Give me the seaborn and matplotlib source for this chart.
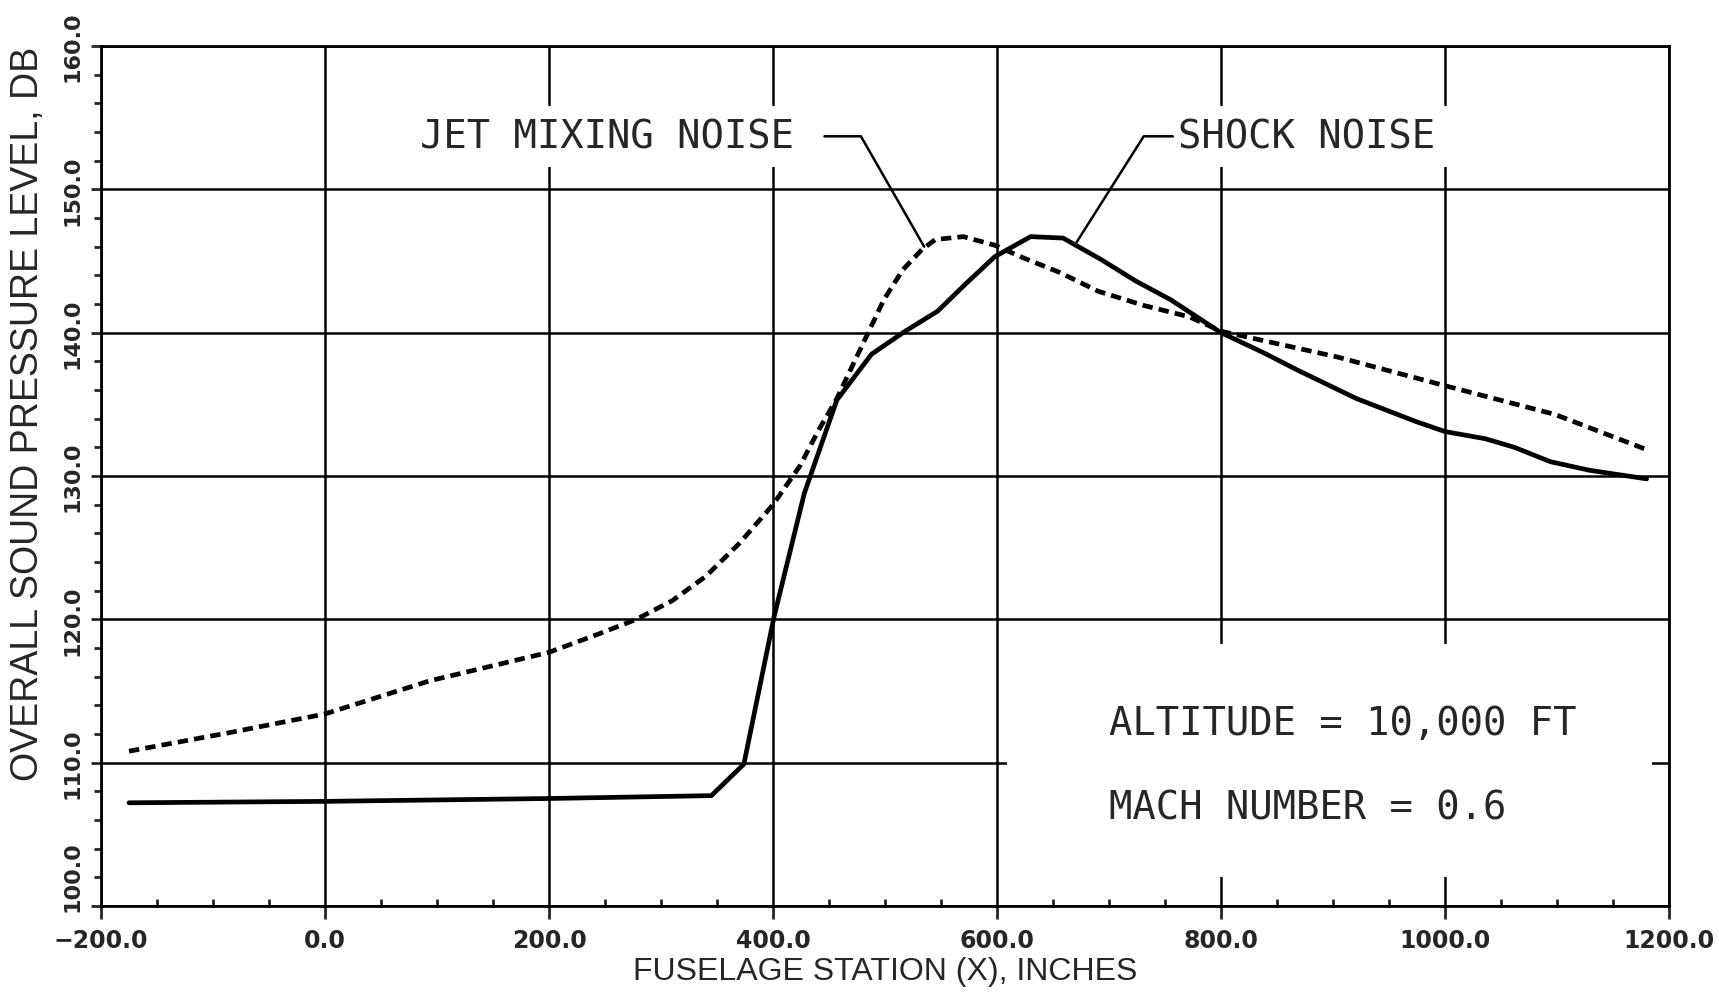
import numpy as np
import pandas as pd
import matplotlib
matplotlib.use('Agg')
import matplotlib.pyplot as plt
import matplotlib.transforms as mtrans
import seaborn as sns
from matplotlib.patches import Rectangle
from matplotlib.ticker import MultipleLocator, FuncFormatter

sns.set_style('white')
plt.rcParams['font.family'] = ['DejaVu Sans']

# shock noise (solid)
shock_x = [-175, 0, 200, 345, 374, 401, 428, 457, 488, 518, 547, 572, 598, 630,
           659, 693, 724, 755, 800, 838, 868, 921, 974, 1000, 1036, 1062, 1094, 1129, 1180]
shock_y = [107.2, 107.3, 107.5, 107.7, 109.9, 120.2, 128.8, 135.3, 138.5, 140.1, 141.5,
           143.4, 145.3, 146.7, 146.6, 145.1, 143.6, 142.3, 140.0, 138.6, 137.4, 135.4,
           133.8, 133.1, 132.6, 132.0, 131.0, 130.4, 129.8]

# jet mixing noise (dashed)
jet_x = [-175, -85, 0, 93, 200, 245, 278, 310, 340, 370, 400, 424, 440, 457, 471, 485,
         499, 516, 533, 545, 570, 598, 621, 656, 690, 731, 772, 800, 904, 1000, 1098, 1178]
jet_y = [110.8, 112.1, 113.4, 115.7, 117.7, 119.0, 120.0, 121.3, 123.0, 125.3, 128.0,
         130.7, 133.1, 135.4, 137.7, 140.0, 142.3, 144.4, 145.8, 146.5, 146.7, 146.1,
         145.3, 144.2, 142.9, 141.9, 141.1, 140.1, 138.3, 136.3, 134.3, 131.9]

x_ticks = [-200, 0, 200, 400, 600, 800, 1000, 1200]
y_ticks = [100, 110, 120, 130, 140, 150, 160]

df = pd.concat([
    pd.DataFrame({'x': shock_x, 'y': shock_y, 'curve': 'SHOCK NOISE'}),
    pd.DataFrame({'x': jet_x, 'y': jet_y, 'curve': 'JET MIXING NOISE'}),
])

fig = plt.figure(figsize=(17.19, 9.95), dpi=100)
ax = fig.add_axes([101 / 1719, 88 / 995, 1568 / 1719, 860 / 995])

sns.lineplot(data=df, x='x', y='y', hue='curve', style='curve',
             palette={'SHOCK NOISE': 'black', 'JET MIXING NOISE': 'black'},
             dashes={'SHOCK NOISE': '', 'JET MIXING NOISE': (2.2, 1.3)},
             sort=False, estimator=None, lw=3.4, legend=False, ax=ax, zorder=3)

ax.set_xlim(-200, 1200)
ax.set_ylim(100, 160)
ax.set_xticks(x_ticks)
ax.set_yticks(y_ticks)
ax.xaxis.set_minor_locator(MultipleLocator(50))
ax.yaxis.set_minor_locator(MultipleLocator(2))
fmt = FuncFormatter(lambda v, p: f'{v:.1f}'.replace('-', '\u2212'))
ax.xaxis.set_major_formatter(fmt)
ax.yaxis.set_major_formatter(fmt)

ax.set_axisbelow(True)
ax.grid(True, which='major', color='black', lw=1.8)
for s in ax.spines.values():
    s.set_color('black')
    s.set_linewidth(2.0)

ax.tick_params(axis='x', which='major', direction='out', length=9, width=2,
               pad=7, labelsize=17, bottom=True)
ax.tick_params(axis='x', which='minor', direction='in', length=5, width=2, bottom=True)
ax.tick_params(axis='y', which='major', direction='out', length=7, width=2,
               pad=6, labelsize=16, left=True, labelrotation=90)
ax.tick_params(axis='y', which='minor', direction='out', length=5, width=2, left=True)
for lab in ax.get_xticklabels() + ax.get_yticklabels():
    lab.set_fontweight('bold')
for lab in ax.get_yticklabels():
    lab.set_verticalalignment('center')

# lowest y label sits above the corner, as in the original
low = ax.yaxis.get_major_ticks()[0].label1
low.set_transform(low.get_transform() + mtrans.ScaledTranslation(0, 0.30, fig.dpi_scale_trans))

ax.set_xlabel('FUSELAGE STATION (X), INCHES',
              family=['Liberation Sans', 'DejaVu Sans'], fontsize=23)
ax.set_ylabel('OVERALL SOUND PRESSURE LEVEL, DB',
              family=['Liberation Sans', 'DejaVu Sans'], fontsize=27)
ax.xaxis.set_label_coords(0.5, -0.058)
ax.yaxis.set_label_coords(-0.035, 0.573)

# blank area behind the flight-condition note
ax.add_patch(Rectangle((609, 102), 576, 16.3, facecolor='white', edgecolor='none', zorder=1))

mono = ['DejaVu Sans Mono']
box = dict(facecolor='white', edgecolor='none', pad=8)
ax.text(85, 153.7, 'JET MIXING NOISE', family=mono, fontsize=28, ha='left', va='center',
        bbox=box, zorder=2)
ax.text(762, 153.7, 'SHOCK NOISE', family=mono, fontsize=28, ha='left', va='center',
        bbox=box, zorder=2)
ax.plot([446, 478.5, 535], [153.7, 153.7, 146.0], color='black', lw=1.8, zorder=4)
ax.plot([757, 731, 671], [153.7, 153.7, 146.3], color='black', lw=1.8, zorder=4)

ax.text(700, 112.8, 'ALTITUDE = 10,000 FT', family=mono, fontsize=28, ha='left',
        va='center', zorder=2)
ax.text(700, 106.9, 'MACH NUMBER = 0.6', family=mono, fontsize=28, ha='left',
        va='center', zorder=2)

fig.savefig('out.png', dpi=100)
